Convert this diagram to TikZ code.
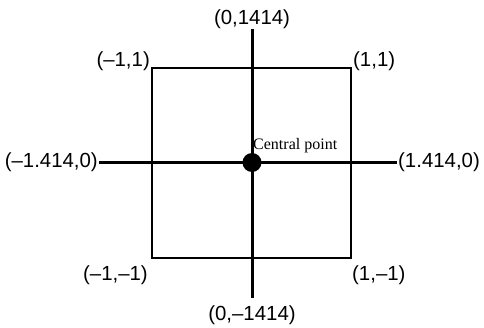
\documentclass[tikz,border=0pt]{standalone}
\usepackage{fontspec}
\setmainfont{Liberation Sans}
\newfontfamily\serifcap{Liberation Serif}
\begin{document}
\begin{tikzpicture}[x=1pt,y=-1pt,
  axis/.style={line width=3pt},
  box/.style={line width=1.1pt},
  lbl/.style={inner sep=0pt,font=\fontsize{20.4}{24}\selectfont},
  captext/.style={inner sep=0pt,font=\serifcap\fontsize{16}{19}\selectfont},
  dot/.style={circle,fill=black,inner sep=0pt,minimum size=19pt}]
\useasboundingbox (0,0) rectangle (484,328);
% square corners
\coordinate (nw) at (152,68);
\coordinate (ne) at (351,68);
\coordinate (se) at (351,258);
\coordinate (sw) at (152,258);
\draw[box] (nw) -- (ne) -- (se) -- (sw) -- cycle;
% axis ends
\coordinate (vt) at (252,29);
\coordinate (vb) at (252,298);
\coordinate (hl) at (99,162.5);
\coordinate (hr) at (397,162.5);
\draw[axis] (vt) -- (vb);
\draw[axis] (hl) -- (hr);
\node[dot] (c) at (252,162.5) {};
\node[captext,anchor=base west] (ct) at (253,149.5) {Central point};
% axis labels
\node[lbl,anchor=base] (lt) at (252,24.5) {(0,1414)};
\node[lbl,anchor=base] (lb) at (252,320) {(0,–1414)};
\node[lbl,anchor=east] (ll) at (98,162.5) {(–1.414,0)};
\node[lbl,anchor=west] (lr) at (398,162.5) {(1.414,0)};
% corner labels
\node[lbl,anchor=base east] (lnw) at (150,66.7) {(–1,1)};
\node[lbl,anchor=base west] (lne) at (353,66.5) {(1,1)};
\node[lbl,anchor=base east] (lsw) at (148,280) {(–1,–1)};
\node[lbl,anchor=base west] (lse) at (352,280) {(1,–1)};
\end{tikzpicture}
\end{document}
